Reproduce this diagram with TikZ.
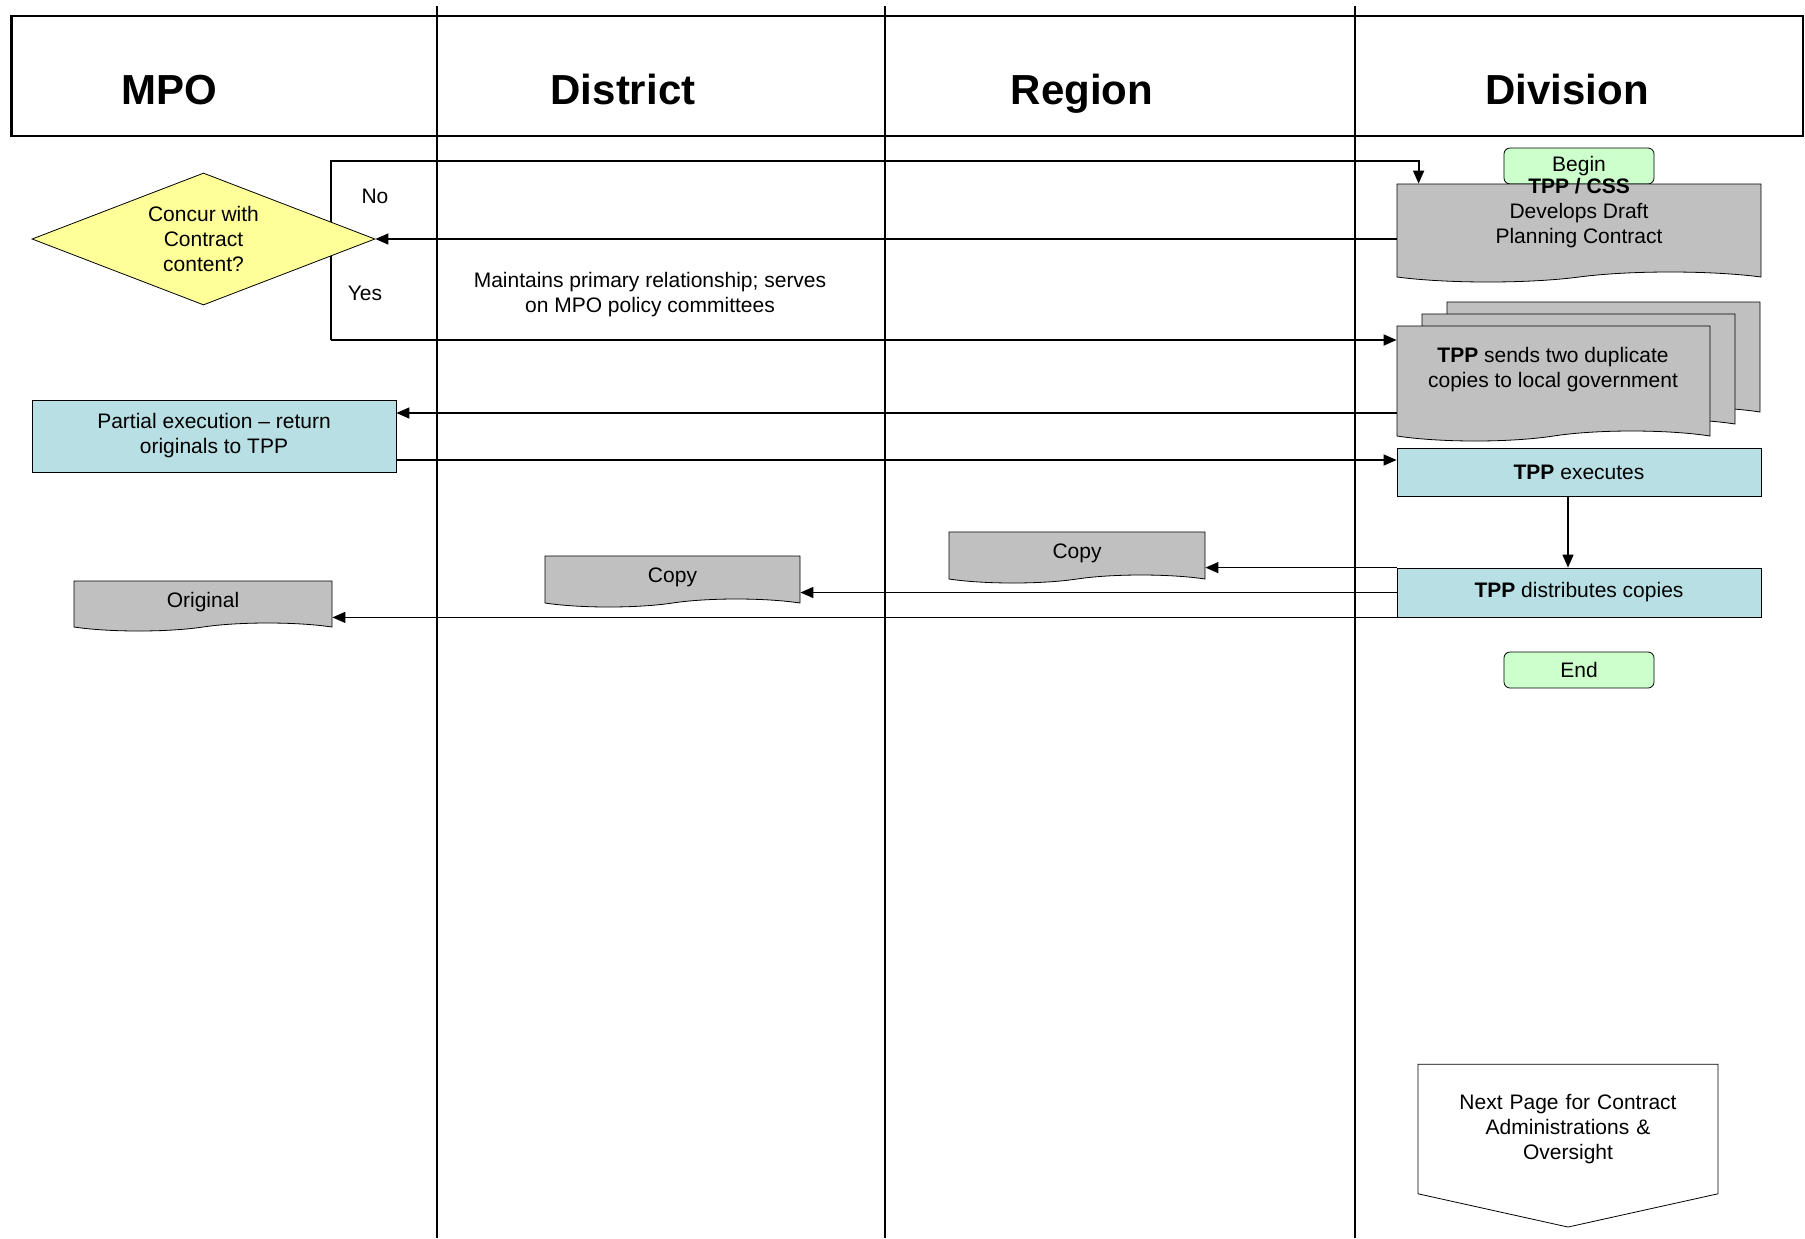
\documentclass[tikz,border=0pt]{standalone}
\usepackage{fontspec}
\setmainfont{Liberation Sans}
\usetikzlibrary{arrows.meta,shapes.geometric,shapes.symbols,shadows}
\definecolor{begingreen}{HTML}{CCFFCC}
\definecolor{taskblue}{HTML}{B8E0E4}
\definecolor{docgray}{HTML}{C0C0C0}
\definecolor{askyellow}{HTML}{FFFF99}

\begin{document}
\begin{tikzpicture}[x=0.5pt,y=-0.5pt,
  every node/.style={font=\fontsize{10.5}{12.5}\selectfont,align=center},
  lanetitle/.style={font=\fontsize{21}{24}\selectfont\bfseries,anchor=base},
  terminal/.style={draw,fill=begingreen,rounded corners=3pt,minimum width=75pt,minimum height=18pt,inner sep=0pt},
  task/.style={draw,fill=taskblue,minimum width=182pt,inner sep=0pt},
  doc/.style={tape,tape bend top=none,tape bend height=5pt,draw,fill=docgray,inner sep=0pt},
  arr/.style={-{Triangle[length=6.5pt,width=5.5pt]},line width=0.7pt}]
  \useasboundingbox (0,0) rectangle (1805,1238);

  % swim lanes
  \draw[line width=0.6pt] (437,6) -- (437,1238);
  \draw[line width=0.6pt] (885,6) -- (885,1238);
  \draw[line width=0.9pt] (1355,6) -- (1355,1238);
  \draw[line width=1.3pt] (11.5,16) rectangle (1803,136);
  \node[lanetitle] (mpo) at (169,104) {MPO};
  \node[lanetitle] (district) at (623,104) {District};
  \node[lanetitle] (region) at (1082,104) {Region};
  \node[lanetitle] (division) at (1567,104) {Division};

  % division
  \node[terminal] (begin) at (1579,166) {Begin};
  \node[doc,minimum width=182pt,minimum height=49pt] (draft) at (1579,228) {};
  \node (drafttext) at (1579,213.5) {\textbf{TPP / CSS}\\Develops Draft\\Planning Contract};
  \node[doc,minimum width=156.5pt,minimum height=57.5pt,
    double copy shadow={shadow xshift=12.5pt,shadow yshift=6pt,fill=docgray,draw=black,thin}] (sends) at (1553.5,378.5) {};
  \node (sendstext) at (1553,369.5) {\textbf{TPP} sends two duplicate\\copies to local government};
  \node[task,minimum height=24pt] (executes) at (1579,472) {\textbf{TPP} executes};
  \node[task,minimum height=24.5pt] (distributes) at (1579,592.5) {\textbf{TPP} distributes copies};
  \node[terminal] (end) at (1579,670) {End};
  \node[signal,signal to=south,signal from=nowhere,signal pointer angle=155,draw,
    text width=112pt,inner xsep=19pt,inner ysep=15pt] (nextpage) at (1568,1129) {Next Page for Contract\\Administrations \&\\Oversight};

  % decision loop
  \coordinate (nocorner) at (331,161);
  \coordinate (yescorner) at (331,340);
  \draw[arr,line width=0.9pt] (yescorner) -- (nocorner) -| ([xshift=11pt]draft.north west);
  \draw[arr,line width=0.9pt] (yescorner) -- (sends.west |- yescorner);

  % mpo
  \node[diamond,draw,fill=askyellow,aspect=2.6,minimum width=171.5pt,minimum height=66pt,inner sep=0pt] (concur) at (203.5,239) {Concur with\\Contract\\content?};
  \node (no) at (375,196) {No};
  \node (yes) at (365,293) {Yes};
  \node (maintains) at (650,295) {Maintains primary relationship; serves\\on MPO policy committees};
  \node[task,minimum height=36pt] (partial) at (214,436) {Partial execution -- return\\originals to TPP};
  \node[doc,minimum width=129pt,minimum height=25pt,tape bend height=4pt] (original) at (203,602) {Original};
  \node[doc,minimum width=127.5pt,minimum height=25.5pt,tape bend height=4pt] (districtcopy) at (672.5,577.5) {Copy};
  \node[doc,minimum width=128pt,minimum height=25.5pt,tape bend height=4pt] (regioncopy) at (1077,553.5) {Copy};

  \coordinate (partin) at ([yshift=11.5pt]partial.east);
  \coordinate (partout) at ([yshift=-12pt]partial.east);
  \draw[arr] (draft.west |- concur.east) -- (concur.east);
  \draw[arr] (sends.west |- partin) -- (partin);
  \draw[arr] (partout) -- (executes.west |- partout);
  \draw[arr] ([xshift=-5.5pt]executes.south) -- ([xshift=-5.5pt]distributes.north);
  \draw[arr] (distributes.north west) -- (regioncopy.east |- distributes.north west);
  \draw[arr] (distributes.west) -- (districtcopy.east |- distributes.west);
  \draw[arr] (distributes.south west) -- (original.east |- distributes.south west);
\end{tikzpicture}
\end{document}
